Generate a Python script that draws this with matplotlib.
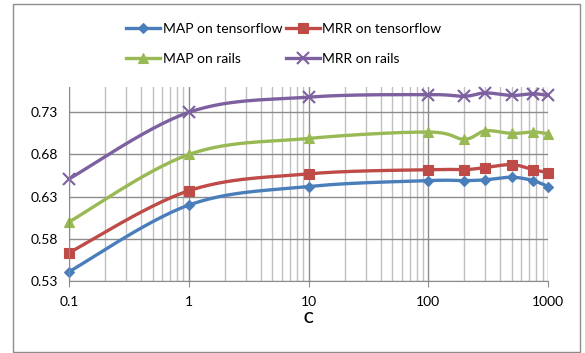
import numpy as np
import matplotlib
matplotlib.use("Agg")
import matplotlib.pyplot as plt
from matplotlib.patches import Rectangle
from matplotlib.lines import Line2D

plt.rcParams['font.family'] = ['Lato', 'DejaVu Sans']

c_values = [0.1, 1, 10, 100, 200, 300, 500, 750, 1000]
map_tensorflow = [0.541, 0.620, 0.642, 0.649, 0.649, 0.650, 0.653, 0.649, 0.642]
mrr_tensorflow = [0.5635, 0.637, 0.657, 0.662, 0.662, 0.6645, 0.668, 0.662, 0.6586]
map_rails = [0.600, 0.680, 0.699, 0.7066, 0.698, 0.708, 0.705, 0.7066, 0.7047]
mrr_rails = [0.651, 0.730, 0.748, 0.751, 0.749, 0.753, 0.750, 0.752, 0.750]
series_names = ["MAP on tensorflow", "MRR on tensorflow", "MAP on rails", "MRR on rails"]
y_ticks = [0.53, 0.58, 0.63, 0.68, 0.73]
x_ticks = [0.1, 1, 10, 100, 1000]
x_tick_labels = ["0.1", "1", "10", "100", "1000"]

colors = ["#4A7EBB", "#BE4B48", "#98B954", "#7D60A0"]
markers = ["D", "s", "^", "x"]
msizes = [5.5, 7, 7, 8]


def smooth(xs, ys, n=30):
    # Catmull-Rom (Excel-like smoothing) in log-x space
    lx = np.log10(np.asarray(xs, float))
    y = np.asarray(ys, float)
    P = np.column_stack([lx, y])
    pts = []
    for i in range(len(P) - 1):
        p0 = P[i - 1] if i > 0 else P[i]
        p1 = P[i]
        p2 = P[i + 1]
        p3 = P[i + 2] if i + 2 < len(P) else P[i + 1]
        c1 = p1 + (p2 - p0) / 6.0
        c2 = p2 - (p3 - p1) / 6.0
        t = np.linspace(0, 1, n)[:, None]
        seg = ((1 - t) ** 3) * p1 + 3 * ((1 - t) ** 2) * t * c1 + 3 * (1 - t) * t ** 2 * c2 + t ** 3 * p2
        pts.append(seg if i == 0 else seg[1:])
    pts = np.vstack(pts)
    return 10 ** pts[:, 0], pts[:, 1]


fig = plt.figure(figsize=(5.85, 3.53), dpi=100)
fig.patches.append(Rectangle((13 / 585, 1 - 352 / 353), (580 - 13) / 585, (352 - 4) / 353,
                             transform=fig.transFigure, fill=False, edgecolor="#8C8C8C", lw=1.0))
ax = fig.add_axes([69 / 585, 1 - 281 / 353, (548 - 69) / 585, (281 - 87) / 353])
ax.set_xscale('log')
ax.set_xlim(0.1, 1000)
ax.set_ylim(0.53, 0.76)

ax.set_yticks(y_ticks)
ax.set_yticklabels([f"{v:.2f}" for v in y_ticks])
ax.set_xticks(x_ticks)
ax.set_xticklabels(x_tick_labels)
ax.xaxis.set_minor_locator(matplotlib.ticker.LogLocator(base=10, subs=np.arange(2, 10)))
ax.xaxis.set_minor_formatter(matplotlib.ticker.NullFormatter())

ax.grid(True, which='major', axis='x', color="#8C8C8C", lw=1.0)
ax.grid(True, which='minor', axis='x', color="#C0C0C0", lw=1.0)
ax.grid(True, which='major', axis='y', color="#8C8C8C", lw=1.0)
ax.set_axisbelow(True)

for s in ['top', 'right']:
    ax.spines[s].set_visible(False)
ax.spines['left'].set_color("#8C8C8C")
ax.spines['bottom'].set_color("#8C8C8C")
ax.tick_params(axis='x', which='major', direction='out', length=4, color="#8C8C8C", labelsize=10, pad=7)
ax.tick_params(axis='x', which='minor', length=0)
ax.tick_params(axis='y', length=0, labelsize=10, pad=8)

data = [map_tensorflow, mrr_tensorflow, map_rails, mrr_rails]
handles = []
for ys, col, mk, ms, name in zip(data, colors, markers, msizes, series_names):
    sx, sy = smooth(c_values, ys)
    ax.plot(sx, sy, color=col, lw=2.4, solid_capstyle='round', clip_on=False)
    ax.plot(c_values, ys, linestyle='none', marker=mk, markersize=ms, color=col,
            markeredgecolor=col, markeredgewidth=1.5 if mk == 'x' else 0.8, clip_on=False)
    handles.append(Line2D([], [], color=col, lw=2.4, marker=mk, markersize=ms,
                          markeredgewidth=1.5 if mk == 'x' else 0.8))

ax.set_xlabel("C", fontsize=10.5, fontweight='bold', labelpad=3)

order = [0, 2, 1, 3]
fig.legend([handles[i] for i in order], [series_names[i] for i in order],
           loc='center', bbox_to_anchor=(284 / 585, 1 - 44 / 353),
           ncol=2, frameon=False, fontsize=10, handlelength=2.4, handletextpad=0.2,
           columnspacing=0.3, labelspacing=1.25, borderpad=0)

fig.savefig("out.png", dpi=100)
